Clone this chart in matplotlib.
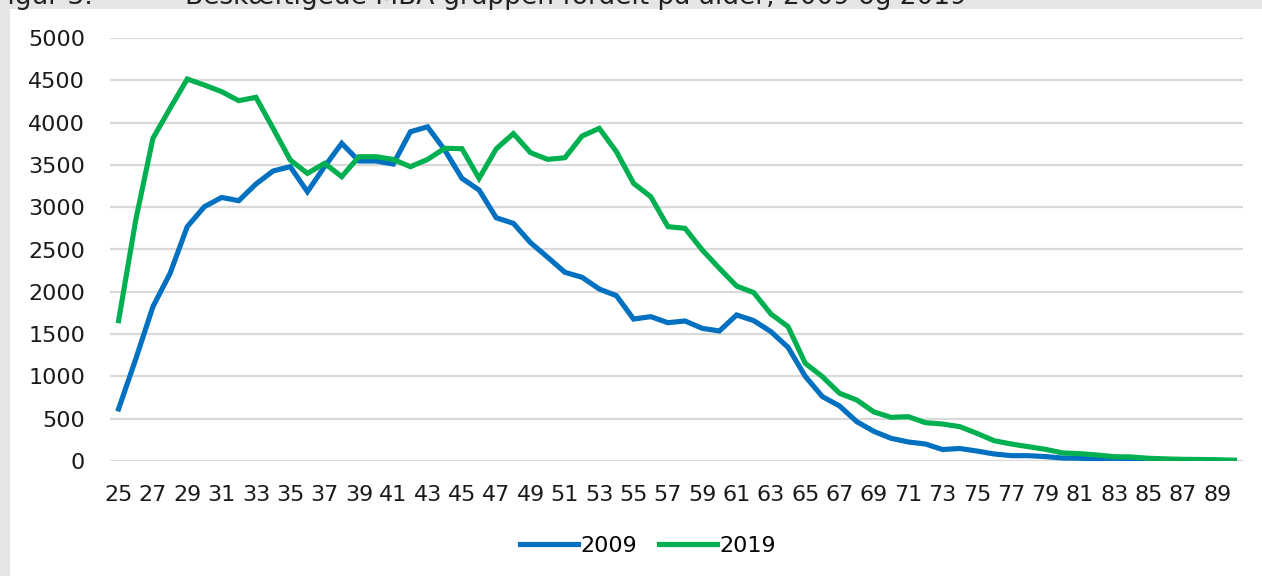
import matplotlib
matplotlib.use("Agg")
import matplotlib.pyplot as plt
from matplotlib.patches import Rectangle
from matplotlib.lines import Line2D

ages = list(range(25, 91))
v2009 = [615, 1205, 1824, 2218, 2770, 3006, 3115, 3077, 3274, 3428,
         3479, 3183, 3480, 3755, 3546, 3546, 3510, 3892, 3950, 3676,
         3341, 3203, 2875, 2809, 2580, 2407, 2230, 2171, 2033, 1954,
         1678, 1706, 1635, 1655, 1568, 1537, 1726, 1659, 1529, 1343,
         1000, 761, 650, 465, 350, 268, 225, 201, 135, 148,
         118, 83, 63, 63, 52, 35, 32, 20, 12, 10,
         8, 6, 5, 4, 3, 2]
v2019 = [1659, 2849, 3814, 4169, 4515, 4444, 4366, 4259, 4299, 3932,
         3558, 3400, 3518, 3361, 3597, 3597, 3565, 3479, 3565, 3696,
         3692, 3341, 3690, 3870, 3644, 3565, 3585, 3841, 3932, 3656,
         3282, 3124, 2770, 2750, 2494, 2277, 2068, 1990, 1738, 1588,
         1155, 997, 800, 721, 580, 516, 524, 453, 437, 406,
         327, 240, 201, 169, 138, 95, 87, 71, 51, 48,
         32, 25, 20, 18, 15, 10]
series_labels = ["2009", "2019"]
colors = ["#0070C0", "#00B050"]
yticks = list(range(0, 5001, 500))

W, H = 1262, 576
fig = plt.figure(figsize=(W / 100, H / 100), dpi=100)
fig.patch.set_facecolor("#e6e6e6")
fig.patches.append(Rectangle((10 / W, 0), 1, (H - 9) / H, transform=fig.transFigure,
                             facecolor="white", edgecolor="none", zorder=-5))

font = "DejaVu Sans"
fig.text(-6 / W, 1 - 4 / H, "Figur 3.", ha="left", va="baseline", fontsize=19,
         family=font, color="#222222")
fig.text(185 / W, 1 - 4 / H,
         "Beskæftigede MBA-gruppen fordelt på alder, 2009 og 2019",
         ha="left", va="baseline", fontsize=19, family=font, color="#222222")

ax = fig.add_axes([110 / W, 115 / H, (1243 - 110) / W, (461 - 38) / H])
ax.set_facecolor("none")
x = list(range(len(ages)))
for vals, c, lab in zip([v2009, v2019], colors, series_labels):
    ax.plot(x, vals, color=c, lw=3.7, solid_joinstyle="miter", label=lab, zorder=3)

ax.set_xlim(-0.5, len(ages) - 0.5)
ax.set_ylim(0, 5000)
ax.set_yticks(yticks)
ax.set_yticklabels([str(t) for t in yticks], family=font, fontsize=16, color="#1a1a1a")
ax.set_xticks(x[::2])
ax.set_xticklabels([str(a) for a in ages[::2]], family=font, fontsize=16, color="#1a1a1a")
ax.tick_params(axis="both", length=0)
ax.tick_params(axis="y", pad=18)
ax.tick_params(axis="x", pad=17)
ax.grid(axis="y", color="#d9d9d9", lw=1.6)
ax.set_axisbelow(True)
for s in ax.spines.values():
    s.set_visible(False)

handles = [Line2D([0], [0], color=c, lw=3.7) for c in colors]
fig.legend(handles, series_labels, loc="center", bbox_to_anchor=(648 / W, 1 - 546 / H),
           ncol=2, frameon=False, handlelength=2.6, handletextpad=0.1, columnspacing=1.0,
           prop={"family": font, "size": 16})

fig.savefig("out.png", dpi=100, facecolor=fig.get_facecolor())
